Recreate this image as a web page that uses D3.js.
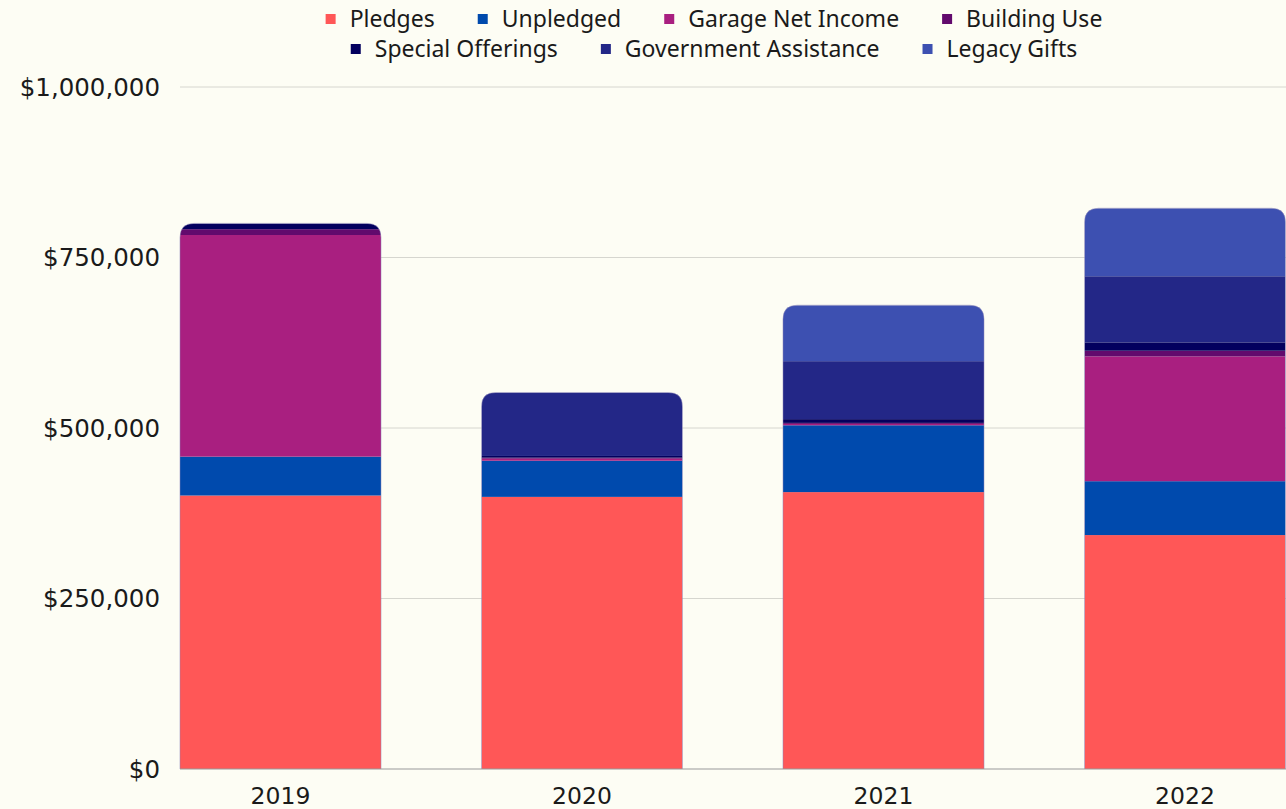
<!DOCTYPE html>
<html>
<head>
<meta charset="utf-8">
<script src="https://cdn.jsdelivr.net/npm/d3@7"></script>
<style>
  html, body { margin: 0; padding: 0; background: #fdfdf4; }
  svg { display: block; font-family: "Noto Sans", "Open Sans", sans-serif; }
</style>
</head>
<body>
<div id="chart"></div>
<script>
const years = ["2019", "2020", "2021", "2022"];
const seriesNames = ["Pledges", "Unpledged", "Garage Net Income", "Building Use", "Special Offerings", "Government Assistance", "Legacy Gifts"];
const seriesColors = ["#ff5757", "#004aad", "#a91f80", "#620a6d", "#03005e", "#232787", "#3d50b1"];

const pledges = [401000, 399000, 406000, 343000];
const unpledged = [57000, 53000, 98000, 79000];
const garageNetIncome = [325000, 3000, 2000, 183000];
const buildingUse = [8500, 1500, 1500, 8300];
const specialOfferings = [8500, 2500, 5500, 12200];
const governmentAssistance = [0, 93000, 85000, 97000];
const legacyGifts = [0, 0, 82000, 99700];

const yTicks = [0, 250000, 500000, 750000, 1000000];

const seriesValues = [pledges, unpledged, garageNetIncome, buildingUse, specialOfferings, governmentAssistance, legacyGifts];
const table = years.map((yr, i) => {
  const row = { year: yr };
  seriesNames.forEach((s, j) => { row[s] = seriesValues[j][i]; });
  return row;
});

const W = 1286, H = 809;

const svg = d3.select("#chart").append("svg")
  .attr("width", W).attr("height", H);

svg.append("rect").attr("width", W).attr("height", H).attr("fill", "#fdfdf4");

const x = d3.scaleBand().domain(years).range([180, 1285.5]).paddingInner(1 / 3).paddingOuter(0);
const y = d3.scaleLinear().domain([0, 1000000]).range([769, 87]);

// gridlines
svg.append("g").selectAll("line").data(yTicks.slice(1)).join("line")
  .attr("x1", 180).attr("x2", W)
  .attr("y1", d => y(d)).attr("y2", d => y(d))
  .attr("stroke", "#d6d6cf").attr("stroke-width", 1);

// y labels
const fmt = d3.format("$,.0f");
svg.append("g").selectAll("text").data(yTicks).join("text")
  .attr("x", 160).attr("y", d => y(d))
  .attr("dy", "0.36em")
  .attr("text-anchor", "end")
  .attr("font-family", "'DejaVu Sans', sans-serif")
  .attr("font-size", 24.5)
  .attr("fill", "#1a1a1a")
  .text(d => fmt(d));

const stack = d3.stack().keys(seriesNames);
const stacked = stack(table);
const color = d3.scaleOrdinal().domain(seriesNames).range(seriesColors);

const r = 14;
const defs = svg.append("defs");
const barOutline = (i) => {
  const total = d3.sum(seriesValues, s => s[i]);
  const x0 = x(years[i]), x1 = x0 + x.bandwidth();
  const yt = y(total), yb = y(0);
  return `M${x0},${yb} L${x0},${yt + r} Q${x0},${yt} ${x0 + r},${yt} L${x1 - r},${yt} Q${x1},${yt} ${x1},${yt + r} L${x1},${yb}`;
};
years.forEach((yr, i) => {
  defs.append("clipPath").attr("id", "clip" + i)
    .append("path").attr("d", barOutline(i) + " Z");
});

const bars = svg.append("g");
years.forEach((yr, i) => {
  const g = bars.append("g").attr("clip-path", `url(#clip${i})`);
  stacked.forEach(layer => {
    const d = layer[i];
    if (d[1] - d[0] <= 0) return;
    g.append("rect")
      .attr("x", x(yr))
      .attr("width", x.bandwidth())
      .attr("y", y(d[1]))
      .attr("height", y(d[0]) - y(d[1]))
      .attr("fill", color(layer.key));
  });
  bars.append("path")
    .attr("d", barOutline(i))
    .attr("fill", "none")
    .attr("stroke", "#8c86b8")
    .attr("stroke-opacity", 0.5)
    .attr("stroke-width", 1);
});

// baseline
svg.append("line")
  .attr("x1", 180).attr("x2", W)
  .attr("y1", y(0)).attr("y2", y(0))
  .attr("stroke", "#9a9a9a").attr("stroke-width", 1.2);

// x labels
svg.append("g").selectAll("text").data(years).join("text")
  .attr("x", d => x(d) + x.bandwidth() / 2)
  .attr("y", 796)
  .attr("dy", "0.36em")
  .attr("text-anchor", "middle")
  .attr("font-family", "'DejaVu Sans', sans-serif")
  .attr("font-size", 23.5)
  .attr("fill", "#1a1a1a")
  .text(d => d);

// legend
const legendRows = [seriesNames.slice(0, 4), seriesNames.slice(4)];
const legendY = [19, 49];
const legendCenter = 714;
const legend = svg.append("g");
legendRows.forEach((row, ri) => {
  const items = row.map(name => {
    const t = legend.append("text")
      .attr("font-size", 23)
      .attr("fill", "#1a1a1a")
      .attr("y", legendY[ri])
      .attr("dy", "0.33em")
      .text(name);
    return { name, t, w: t.node().getComputedTextLength() };
  });
  const sq = 10, gapST = 14, gapItem = 43;
  const total = d3.sum(items, d => sq + gapST + d.w) + gapItem * (items.length - 1);
  let cx = legendCenter - total / 2;
  items.forEach(it => {
    legend.append("rect")
      .attr("x", cx).attr("y", legendY[ri] - 5)
      .attr("width", sq).attr("height", sq)
      .attr("fill", color(it.name));
    it.t.attr("x", cx + sq + gapST);
    cx += sq + gapST + it.w + gapItem;
  });
});
</script>
</body>
</html>
